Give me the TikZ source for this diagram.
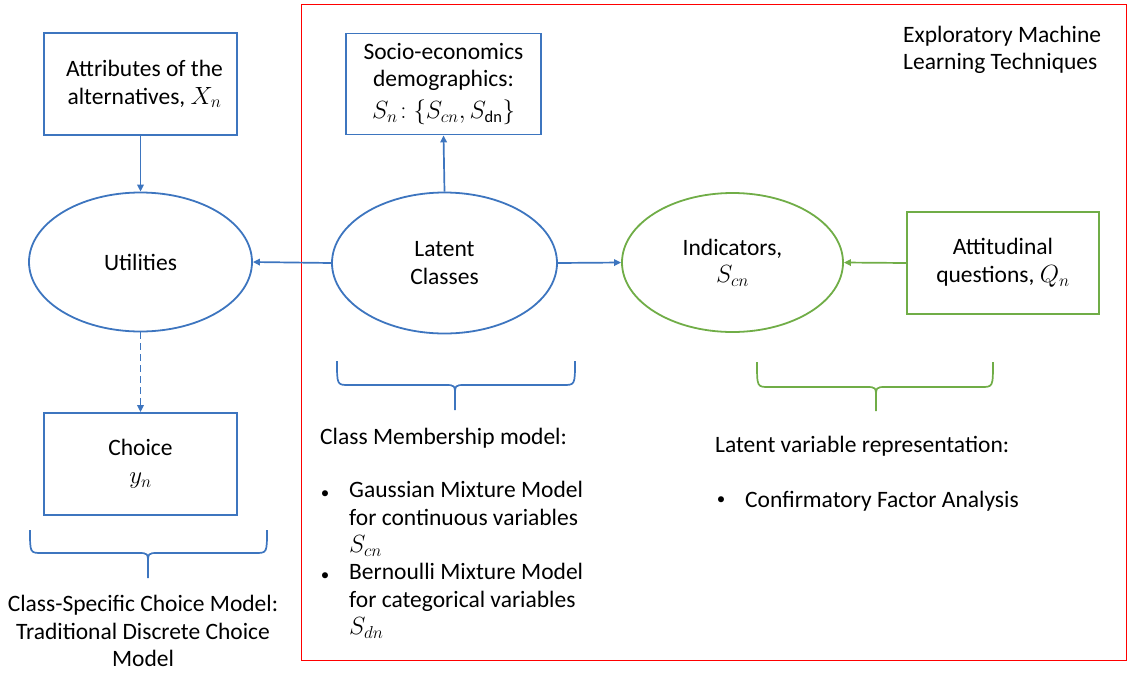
\documentclass[tikz,border=0pt]{standalone}
\usepackage{fontspec}
\setmainfont{Carlito}
\usetikzlibrary{arrows.meta,shapes.geometric}
\definecolor{oblue}{HTML}{3D75BF}
\definecolor{ogreen}{HTML}{70AD47}
\definecolor{ored}{HTML}{FF0000}
\tikzset{
  every node/.style={font=\fontsize{23.5}{27.5}\selectfont, text=black},
  bbox/.style={draw=oblue, line width=1.8pt, minimum width=193pt, minimum height=102pt, align=center, inner sep=0pt},
  gbox/.style={draw=ogreen, line width=1.8pt, minimum width=192pt, minimum height=102pt, align=center, inner sep=0pt},
  bell/.style={draw=oblue, line width=1.8pt, ellipse, minimum width=223pt, minimum height=139pt, align=center, inner sep=0pt},
  gell/.style={draw=ogreen, line width=1.8pt, ellipse, minimum width=221pt, minimum height=139pt, align=center, inner sep=0pt},
  barrow/.style={draw=oblue, line width=1.7pt, -{Triangle[length=7pt,width=6.5pt]}},
  garrow/.style={draw=ogreen, line width=1.7pt, -{Triangle[length=7pt,width=6.5pt]}},
  bracebl/.style={draw=oblue, line width=1.7pt},
  bracegr/.style={draw=ogreen, line width=1.7pt},
  plain/.style={inner sep=0pt, align=left},
  bul/.style={inner sep=0pt, font=\fontsize{17}{20}\selectfont},
}
\newcommand\mybrace[7]{%
  \draw[#7] (#1,#3) .. controls (#1,#4) .. (#1+12,#4) -- (#6-10,#4) .. controls (#6,#4) .. (#6,#4+12) -- (#6,#5);
  \draw[#7] (#2,#3) .. controls (#2,#4) .. (#2-12,#4) -- (#6+10,#4) .. controls (#6,#4) .. (#6,#4+12);
}
\begin{document}
\begin{tikzpicture}[x=1pt,y=-1pt]
\useasboundingbox (0,0) rectangle (1128,673);
\draw[ored, line width=1.8pt] (301.5,4.5) rectangle (1126.5,660.5);

\node[bbox] (attr) at (140.5,84) {\hspace*{8pt}Attributes of the\\\hspace*{8pt}alternatives, $X_n$};
\node[bell] (util) at (140.5,262) {Utilities};
\node[bbox] (choice) at (140.5,464) {Choice\\$y_n$};
\node[bbox, minimum width=195pt, minimum height=101pt] (socio) at (443.5,84) {Socio-economics\\demographics:\\[4pt]$S_n\!:\{S_{cn},S_{\mathrm{dn}}\}$};
\node[bell, minimum width=225pt, minimum height=141pt] (latent) at (444.5,263) {Latent\\Classes};
\node[gell] (ind) at (732.5,262.5) {Indicators,\\$S_{cn}$};
\node[gbox] (att) at (1003,263) {Attitudinal\\questions, $Q_n$};

\draw[barrow] (attr.south) -- (util.north);
\draw[barrow, dashed, dash pattern=on 7pt off 4pt] (util.south) -- (choice.north);
\draw[barrow] (latent.north) -- (socio.south);
\draw[barrow] (latent.west) -- (util.east);
\draw[barrow] (latent.east) -- (ind.west);
\draw[garrow] (att.west) -- (ind.east);

\mybrace{30}{267}{530}{553}{578}{148}{bracebl}
\mybrace{337}{575}{361}{385}{410}{455}{bracebl}
\mybrace{757}{993}{362}{387}{411}{876}{bracegr}

\node[align=center, inner sep=0pt] (csc) at (143,631) {Class-Specific Choice Model:\\Traditional Discrete Choice\\Model};

\node[plain, anchor=west] (cm) at (320,438) {Class Membership model:};
\node[bul] (b1) at (325,495) {\textbullet};
\node[plain, anchor=north west] (gmm) at (349,481) {Gaussian Mixture Model\\for continuous variables\\$S_{cn}$};
\node[bul] (b2) at (325,577) {\textbullet};
\node[plain, anchor=north west] (bmm) at (349,563) {Bernoulli Mixture Model\\for categorical variables\\$S_{dn}$};

\node[plain, anchor=west] (lvr) at (715,446) {Latent variable representation:};
\node[bul] (b3) at (721,501) {\textbullet};
\node[plain, anchor=west] (cfa) at (745,501) {Confirmatory Factor Analysis};

\node[plain, anchor=west] (eml) at (903,50) {Exploratory Machine\\Learning Techniques};
\end{tikzpicture}
\end{document}
